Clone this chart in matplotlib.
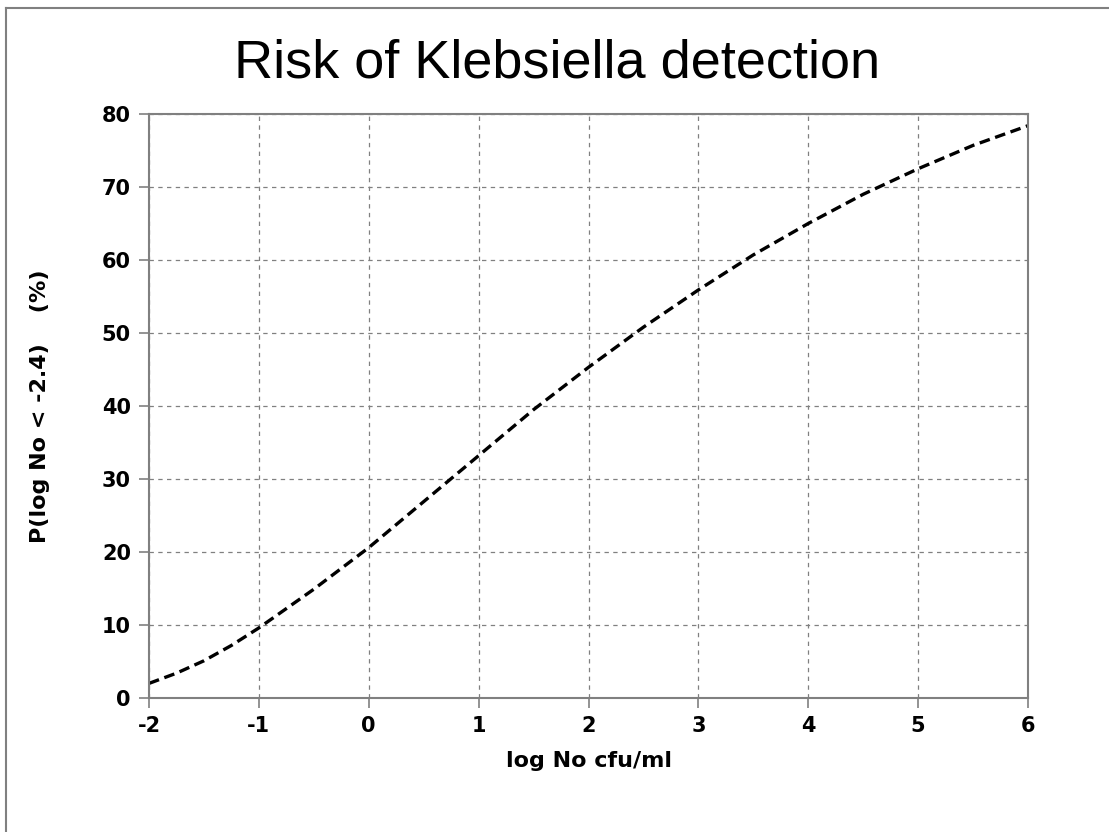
import matplotlib
matplotlib.use("Agg")
from matplotlib import pyplot as plt
from matplotlib.lines import Line2D

plt.rcParams['axes.unicode_minus'] = False

# values
log_no = [-2.0, -1.75, -1.5, -1.25, -1.0, -0.5, 0.0, 0.5, 1.0, 1.5, 2.0, 2.5,
          3.0, 3.5, 4.0, 4.5, 5.0, 5.5, 6.0]
risk = [2.0, 3.4, 5.1, 7.2, 9.6, 14.9, 20.6, 26.9, 33.2, 39.5, 45.3, 50.8,
        55.9, 60.7, 65.0, 69.0, 72.5, 75.7, 78.4]

x_ticks = [-2, -1, 0, 1, 2, 3, 4, 5, 6]
y_ticks = [0, 10, 20, 30, 40, 50, 60, 70, 80]

gray = '#808080'

fig = plt.figure(figsize=(11.09, 8.32), dpi=100)
ax = fig.add_axes([149 / 1109, 1 - 698 / 832, 879 / 1109, 584 / 832])

ax.plot(log_no, risk, color='black', lw=2.4, linestyle=(0, (3.2, 1.7)))

ax.set_xlim(-2, 6)
ax.set_ylim(0, 80)
ax.set_xticks(x_ticks)
ax.set_yticks(y_ticks)
ax.grid(True, color=gray, lw=0.9, linestyle=(0, (3.5, 3.5)))

for s in ax.spines.values():
    s.set_color(gray)
    s.set_linewidth(1.5)

ax.tick_params(axis='both', direction='out', length=7, width=1.2, color=gray,
               pad=6, labelsize=15, top=False, right=False)
for lab in ax.get_xticklabels() + ax.get_yticklabels():
    lab.set_fontweight('bold')

ax.set_xlabel('log No cfu/ml', fontsize=16, fontweight='bold')
ax.xaxis.set_label_coords(0.5, -0.09)
ax.set_ylabel('P(log No < -2.4)    (%)', fontsize=16, fontweight='bold')
ax.yaxis.set_label_coords(-0.113, 0.5)

fig.text(557 / 1109, 1 - 77 / 832, 'Risk of Klebsiella detection',
         family='Liberation Sans', fontsize=39, ha='center', va='baseline')

# partial frame around the figure (top and left edges)
fig.add_artist(Line2D([6 / 1109, 1], [1 - 8 / 832, 1 - 8 / 832], color=gray, lw=1.5,
                      transform=fig.transFigure))
fig.add_artist(Line2D([6 / 1109, 6 / 1109], [0, 1 - 8 / 832], color=gray, lw=1.5,
                      transform=fig.transFigure))

fig.savefig('out.png', dpi=100)
